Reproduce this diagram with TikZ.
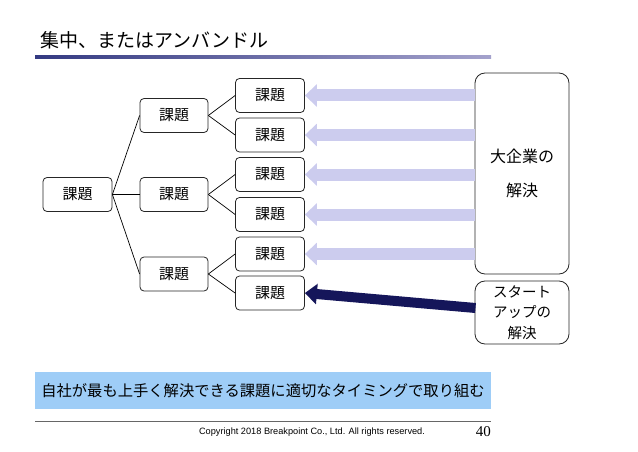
\documentclass[tikz,border=0pt]{standalone}
\usepackage{fontspec}
\setmainfont{Noto Sans CJK JP}
\newfontfamily\latinsans{Liberation Sans}
\newfontfamily\latinserif{Liberation Serif}
\usetikzlibrary{arrows.meta}
\definecolor{lightarr}{HTML}{CCCCEE}
\definecolor{darkarr}{HTML}{15165A}
\definecolor{banner}{HTML}{9ECDF7}
\definecolor{gradL}{HTML}{343A82}
\definecolor{gradR}{HTML}{A4A2CC}
\tikzset{
  kbox/.style={draw=black!85, line width=0.8pt, rounded corners=4pt, fill=white,
    minimum width=69pt, minimum height=34pt, inner sep=0pt, font=\fontsize{15}{17}\selectfont},
  sbox/.style={draw=black!85, line width=0.8pt, rounded corners=10pt, fill=white,
    minimum width=94pt, inner sep=0pt, align=center},
  tree/.style={draw=black, line width=0.7pt},
  lightarrow/.style={draw=lightarr, line width=12pt, -{Triangle[width=22pt,length=12pt]}},
  darkarrow/.style={draw=darkarr, line width=10pt, -{Triangle[width=20pt,length=12pt]}}
}
\begin{document}
\begin{tikzpicture}[x=1pt,y=-1pt]
\useasboundingbox (0,0) rectangle (638,452);
% title
\node[anchor=west, inner sep=0pt, font=\fontsize{19}{21}\selectfont] (title) at (40,40) {集中、またはアンバンドル};
\shade[left color=gradL, right color=gradR] (35,55.5) rectangle (491,58.5);
% tree boxes
\node[kbox] (root) at (77.5,194.5) {課題};
\node[kbox, minimum width=68pt] (m1) at (174,115.5) {課題};
\node[kbox, minimum width=68pt] (m2) at (174,194.5) {課題};
\node[kbox, minimum width=68pt] (m3) at (174,274) {課題};
\node[kbox] (l1) at (270,95.5) {課題};
\node[kbox] (l2) at (270,135) {課題};
\node[kbox] (l3) at (270,174.5) {課題};
\node[kbox] (l4) at (270,214.5) {課題};
\node[kbox] (l5) at (270,254) {課題};
\node[kbox] (l6) at (270,293) {課題};
% tree lines
\draw[tree] (root.east) -- (m1.west);
\draw[tree] (root.east) -- (m2.west);
\draw[tree] (root.east) -- (m3.west);
\draw[tree] (m1.east) -- (l1.west);
\draw[tree] (m1.east) -- (l2.west);
\draw[tree] (m2.east) -- (l3.west);
\draw[tree] (m2.east) -- (l4.west);
\draw[tree] (m3.east) -- (l5.west);
\draw[tree] (m3.east) -- (l6.west);
% solution boxes
\node[sbox, minimum height=201pt, font=\fontsize{16}{34}\selectfont] (big) at (522,173.5) {大企業の\\解決};
\node[sbox, minimum height=63pt, font=\fontsize{14.5}{20.5}\selectfont] (start) at (522,312.5) {スタート\\アップの\\解決};
% arrows
\draw[lightarrow] (big.west |- l1.east) -- (l1.east);
\draw[lightarrow] (big.west |- l2.east) -- (l2.east);
\draw[lightarrow] (big.west |- l3.east) -- (l3.east);
\draw[lightarrow] (big.west |- l4.east) -- (l4.east);
\draw[lightarrow] (big.west |- l5.east) -- (l5.east);
\coordinate (sttail) at (475.5,308);
\draw[darkarrow] (sttail) -- (l6.east);
% banner
\node[fill=banner, minimum width=456pt, minimum height=37pt, inner sep=0pt,
  font=\fontsize{15.3}{18}\selectfont] (msg) at (263,390.5) {自社が最も上手く解決できる課題に適切なタイミングで取り組む};
% footer
\draw[black!60, line width=1pt] (35,421) -- (491,421);
\node[inner sep=0pt, font=\latinsans\fontsize{9.2}{11}\selectfont] (copy) at (312,432) {Copyright 2018 Breakpoint Co., Ltd. All rights reserved.};
\node[inner sep=0pt, anchor=east, font=\latinserif\fontsize{15}{17}\selectfont] (page) at (491,432) {40};
\end{tikzpicture}
\end{document}
